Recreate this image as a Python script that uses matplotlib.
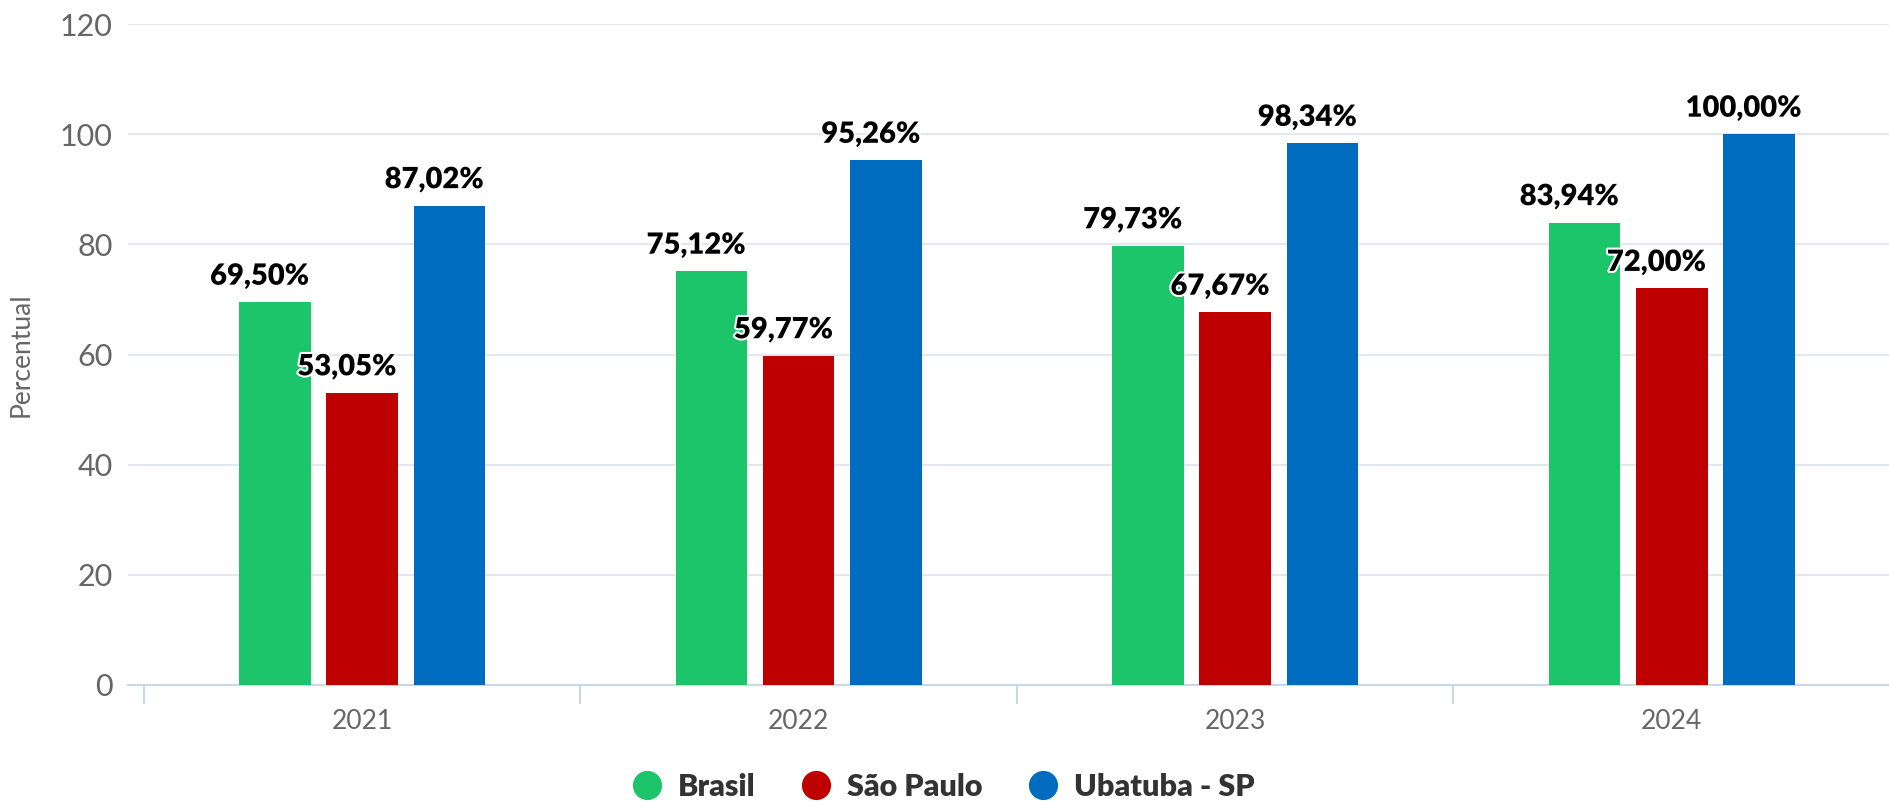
import matplotlib.pyplot as plt
import matplotlib.patheffects as pe
from matplotlib.lines import Line2D
import numpy as np

plt.rcParams['font.family'] = ['Lato', 'DejaVu Sans']

anos = ['2021', '2022', '2023', '2024']
brasil = [69.50, 75.12, 79.73, 83.94]
sao_paulo = [53.05, 59.77, 67.67, 72.00]
ubatuba = [87.02, 95.26, 98.34, 100.00]

series = ['Brasil', 'São Paulo', 'Ubatuba - SP']
cores = ['#1CC56A', '#BF0000', '#006CBF']

fig = plt.figure(figsize=(18.9, 8.06), dpi=100)
ax = fig.add_axes([128 / 1890, 121 / 806, 1 - 128 / 1890, 661 / 806])

x = np.arange(len(anos))
largura = 0.164
passo = 0.2

for i, (nome, vals, cor) in enumerate(zip(series, [brasil, sao_paulo, ubatuba], cores)):
    pos = x + (i - 1) * passo
    ax.bar(pos, vals, width=largura, color=cor, zorder=3)
    for px, v in zip(pos, vals):
        t = ax.annotate(f'{v:.2f}%'.replace('.', ','), (px, v), xytext=(-11, 9),
                        textcoords='offset points', ha='center', va='bottom',
                        fontsize=21, fontweight='heavy', color='black', zorder=5)
        t.set_path_effects([pe.withStroke(linewidth=3, foreground='white')])

ax.set_ylim(0, 120)
ax.set_yticks(range(0, 121, 20))
ax.set_xlim(-0.5 - 16 / 440, 3.5 - 15 / 440)
ax.set_xticks(x)
ax.set_xticklabels(anos)
ax.set_xticks(np.arange(-0.5, 4, 1), minor=True)

ax.grid(axis='y', color='#e3e7ee', linewidth=1.5, zorder=0)
for s in ['top', 'right', 'left']:
    ax.spines[s].set_visible(False)
ax.spines['bottom'].set_color('#ccd6eb')
ax.spines['bottom'].set_linewidth(1.5)

ax.tick_params(axis='y', length=0, pad=11, labelsize=22, labelcolor='#666666')
ax.tick_params(axis='x', which='major', length=0, pad=17, labelsize=19, labelcolor='#666666')
ax.tick_params(axis='x', which='minor', length=14, width=1.5, color='#ccd6eb')

ax.set_ylabel('Percentual', fontsize=19, color='#666666', labelpad=19)

handles = [Line2D([], [], marker='o', linestyle='', markersize=20, color=c) for c in cores]
fig.legend(handles, series, loc='center', bbox_to_anchor=(0.495, 0.024), ncol=3,
           frameon=False, prop={'size': 22, 'weight': 'heavy'}, labelcolor='#333333',
           handletextpad=0.0, columnspacing=1.0)

fig.savefig('out.png', dpi=100)
